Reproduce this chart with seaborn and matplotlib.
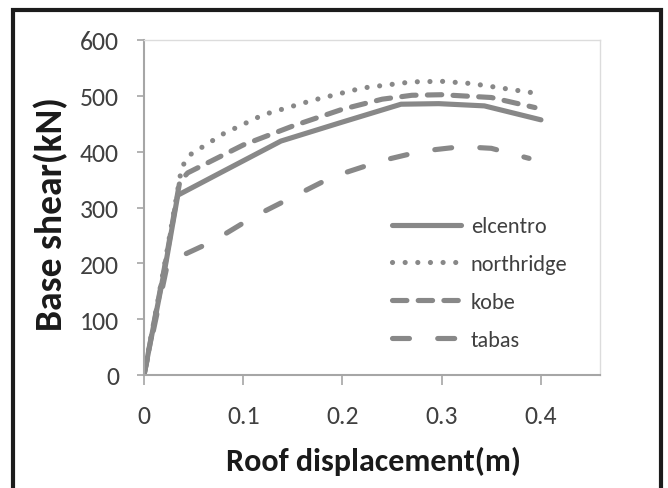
import matplotlib
matplotlib.use("Agg")
import matplotlib.pyplot as plt
import seaborn as sns
import pandas as pd
from matplotlib.patches import Rectangle

# ---- data ----
elcentro_x = [0, 0.022, 0.034, 0.08, 0.138, 0.198, 0.259, 0.297, 0.343, 0.4]
elcentro_y = [0, 200, 322, 365, 419, 452, 485, 486, 482, 457]
northridge_x = [0, 0.022, 0.038, 0.046, 0.08, 0.12, 0.17, 0.22, 0.27, 0.3, 0.33, 0.39]
northridge_y = [0, 210, 372, 394, 432, 466, 492, 514, 525, 526, 522, 506]
kobe_x = [0, 0.022, 0.036, 0.044, 0.1, 0.15, 0.2, 0.24, 0.27, 0.3, 0.35, 0.394]
kobe_y = [0, 205, 346, 362, 412, 446, 476, 494, 501, 502, 497, 479]
tabas_x = [0, 0.024, 0.036, 0.07, 0.11, 0.15, 0.19, 0.24, 0.28, 0.32, 0.35, 0.388]
tabas_y = [0, 202, 212, 240, 283, 319, 355, 384, 401, 409, 406, 388]
series_names = ["elcentro", "northridge", "kobe", "tabas"]
x_ticks = [0, 0.1, 0.2, 0.3, 0.4]
x_tick_labels = ["0", "0.1", "0.2", "0.3", "0.4"]
y_ticks = [0, 100, 200, 300, 400, 500, 600]

sns.set_theme(style="white")
font = ["Carlito", "DejaVu Sans"]
plt.rcParams["font.family"] = font

W, H = 668, 489
fig = plt.figure(figsize=(W / 100, H / 100), dpi=100)
ax = fig.add_axes([144 / W, 1 - 376 / H, (600 - 144) / W, (376 - 41) / H])

color = "#888888"
lw = 3.7
styles = {
    "elcentro": "-",
    "northridge": (0, (0.01, 2.45)),
    "kobe": (0, (2.8, 2.2)),
    "tabas": (0, (3.3, 5.5)),
}
data = {
    "elcentro": (elcentro_x, elcentro_y),
    "northridge": (northridge_x, northridge_y),
    "kobe": (kobe_x, kobe_y),
    "tabas": (tabas_x, tabas_y),
}
for name in series_names:
    xs, ys = data[name]
    df = pd.DataFrame({"x": xs, "y": ys})
    sns.lineplot(data=df, x="x", y="y", ax=ax, color=color, linewidth=lw,
                 linestyle=styles[name], dash_capstyle="round",
                 solid_capstyle="round", solid_joinstyle="round",
                 label=name, sort=False, legend=False)

ax.set_xlim(0, 0.4595)
ax.set_ylim(0, 600)
ax.set_xticks(x_ticks)
ax.set_xticklabels(x_tick_labels)
ax.set_yticks(y_ticks)

tick_color = "#404040"
ax.tick_params(axis="y", which="major", direction="out", length=5, width=1.2,
               color="#a6a6a6", labelsize=18.5, labelcolor=tick_color, pad=13, left=True)
ax.tick_params(axis="x", which="major", direction="out", length=7, width=1.2,
               color="#a6a6a6", labelsize=18.5, labelcolor=tick_color, pad=14, bottom=True)

for side in ["left", "bottom"]:
    ax.spines[side].set_color("#a6a6a6")
    ax.spines[side].set_linewidth(1.5)
for side in ["top", "right"]:
    ax.spines[side].set_color("#dcdcdc")
    ax.spines[side].set_linewidth(1.0)
ax.grid(False)

ax.set_xlabel("")
ax.set_ylabel("")
fig.text(373 / W, 1 - 461 / H, "Roof displacement(m)", ha="center", va="center",
         fontsize=23, fontweight="bold", color="#1a1a1a", family=font)
fig.text(51 / W, 1 - 214 / H, "Base shear(kN)", ha="center", va="center",
         rotation=90, fontsize=27, fontweight="bold", color="#1a1a1a",
         family=font)

handles = ax.get_lines()
leg = fig.legend(handles=handles, labels=series_names, loc="center left",
                 bbox_to_anchor=(392 / W, 1 - 284 / H), frameon=False,
                 fontsize=16, handlelength=3.1, handletextpad=0.45,
                 labelspacing=0.8, borderpad=0, borderaxespad=0)
for t in leg.get_texts():
    t.set_color(tick_color)

rect = Rectangle((13 / W, -0.1), (661 - 13) / W, 1.1 - 11 / H,
                 transform=fig.transFigure, fill=False, edgecolor="#1c1c1c",
                 linewidth=3, clip_on=False)
fig.patches.append(rect)

fig.savefig("out.png", dpi=100)
